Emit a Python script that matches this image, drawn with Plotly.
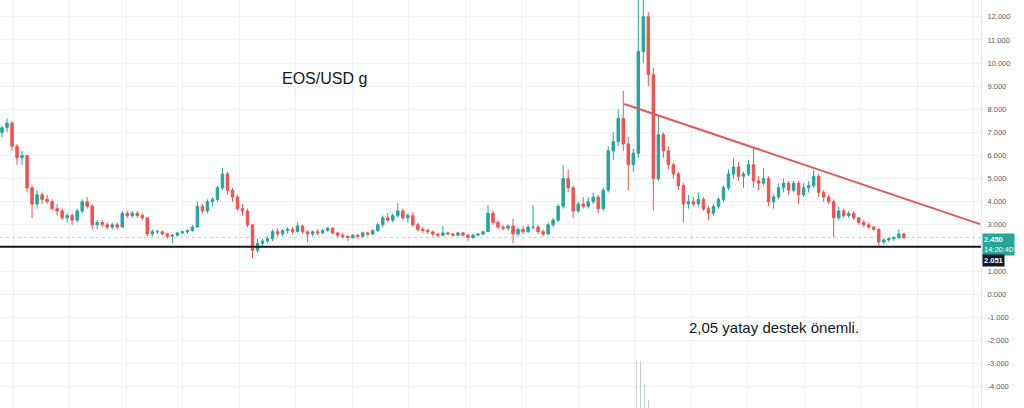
import plotly.graph_objects as go

# ---- data (index = candle number, left to right) ----
opens = [7.0, 7.2, 7.4, 6.4, 5.9, 6.0, 4.6, 3.9, 4.3, 4.1,
         4.0, 3.7, 3.6, 3.3, 3.4, 3.2, 3.6, 4.0, 3.8, 3.0,
         3.1, 3.0, 2.9, 3.0, 2.9, 3.5, 3.4, 3.5, 3.4, 3.3,
         2.6, 2.7, 2.7, 2.6, 2.5, 2.55, 2.65, 2.7, 2.75, 2.9,
         3.8, 3.6, 4.0, 4.1, 4.6, 5.2, 4.5, 4.2, 3.7, 3.6,
         3.0, 1.9, 2.2, 2.3, 2.4, 2.7, 2.6, 2.75, 2.8, 2.7,
         2.95, 2.7, 2.6, 2.7, 2.65, 2.75, 2.85, 2.65, 2.55, 2.5,
         2.45, 2.55, 2.5, 2.65, 2.6, 2.75, 3.0, 3.3, 3.2, 3.4,
         3.6, 3.3, 3.4, 3.0, 2.8, 2.75, 2.7, 2.6, 2.55, 2.65,
         2.6, 2.55, 2.65, 2.55, 2.45, 2.55, 2.6, 2.7, 3.5, 3.1,
         2.9, 2.85, 2.95, 2.6, 2.8, 2.7, 2.9, 2.9, 2.7, 2.6,
         3.0, 3.2, 3.8, 5.0, 4.6, 3.6, 3.9, 3.8, 4.0, 4.2,
         3.7, 4.5, 6.2, 6.6, 7.6, 6.5, 5.6, 6.1, 10.5, 12.0,
         9.5, 5.0, 6.9, 6.2, 5.6, 5.2, 4.7, 3.9, 4.0, 3.9,
         4.1, 3.7, 3.5, 3.8, 4.1, 4.6, 5.2, 5.5, 5.1, 5.2,
         5.6, 4.9, 4.8, 5.0, 4.0, 4.2, 4.6, 4.8, 4.5, 4.8,
         4.3, 4.6, 4.7, 5.1, 4.4, 4.2, 4.0, 3.3, 3.6, 3.4,
         3.5, 3.3, 3.1, 3.0, 2.9, 2.8, 2.25, 2.35, 2.4, 2.45,
         2.6]
highs = [7.3, 7.6, 7.5, 6.5, 6.2, 6.0, 4.7, 4.5, 4.4, 4.3,
         4.1, 3.9, 3.7, 3.5, 3.5, 3.7, 4.1, 4.2, 3.9, 3.2,
         3.2, 3.1, 3.1, 3.1, 3.6, 3.6, 3.6, 3.6, 3.5, 3.3,
         2.8, 2.8, 2.75, 2.65, 2.6, 2.7, 2.75, 2.8, 3.0, 4.0,
         3.9, 4.1, 4.2, 4.7, 5.45, 5.3, 4.6, 4.3, 3.9, 3.7,
         3.0, 2.4, 2.4, 2.5, 2.8, 2.85, 2.8, 2.9, 2.9, 3.1,
         3.0, 2.75, 2.75, 2.8, 2.8, 2.9, 2.9, 2.7, 2.65, 2.55,
         2.6, 2.6, 2.7, 2.7, 2.8, 3.1, 3.4, 3.5, 3.5, 3.95,
         3.7, 3.5, 3.55, 3.1, 2.9, 2.85, 2.75, 2.65, 2.95, 2.7,
         2.65, 2.7, 2.7, 2.6, 2.6, 2.65, 2.75, 3.85, 3.6, 3.2,
         3.0, 3.0, 3.25, 2.9, 2.95, 3.0, 3.85, 3.0, 2.8, 3.1,
         3.3, 3.9, 5.6, 5.4, 4.7, 4.0, 4.2, 4.2, 4.4, 4.3,
         4.6, 6.4, 7.0, 8.0, 8.8, 6.8, 6.3, 13.5, 14.8, 12.2,
         9.8, 7.7, 7.0, 6.4, 5.7, 5.3, 4.8, 4.3, 4.2, 4.4,
         4.2, 3.8, 3.9, 4.2, 4.7, 5.4, 5.9, 5.7, 5.3, 5.8,
         6.3, 5.1, 5.45, 5.1, 4.3, 4.8, 5.0, 4.9, 4.9, 4.9,
         4.8, 4.9, 5.37, 5.2, 4.5, 4.3, 4.1, 3.8, 3.7, 3.6,
         3.6, 3.35, 3.2, 3.1, 2.95, 2.85, 2.4, 2.45, 2.5, 2.8,
         2.65]
lows = [6.8, 7.0, 6.2, 5.6, 5.6, 4.4, 3.3, 3.7, 3.9, 3.9,
        3.6, 3.4, 3.2, 3.1, 3.0, 3.1, 3.5, 3.7, 2.8, 2.8,
        2.9, 2.8, 2.8, 2.8, 2.9, 3.3, 3.3, 3.3, 3.2, 2.5,
        2.5, 2.6, 2.55, 2.4, 2.2, 2.5, 2.6, 2.6, 2.7, 2.9,
        3.5, 3.5, 3.8, 4.0, 4.5, 4.3, 4.0, 3.6, 3.4, 2.9,
        1.55, 1.8, 2.1, 2.2, 2.3, 2.5, 2.5, 2.6, 2.6, 2.7,
        2.6, 2.25, 2.5, 2.55, 2.6, 2.7, 2.6, 2.45, 2.4, 2.3,
        2.4, 2.4, 2.45, 2.5, 2.55, 2.7, 2.9, 3.1, 3.1, 3.3,
        3.2, 3.1, 2.9, 2.7, 2.65, 2.6, 2.5, 2.45, 2.5, 2.55,
        2.5, 2.5, 2.5, 2.3, 2.4, 2.5, 2.55, 2.7, 3.0, 2.8,
        2.75, 2.75, 2.2, 2.5, 2.6, 2.65, 2.8, 2.6, 2.5, 2.55,
        2.9, 3.1, 3.7, 4.4, 3.3, 3.5, 3.7, 3.7, 3.9, 3.5,
        3.6, 4.4, 5.8, 6.4, 6.2, 4.5, 5.3, 5.9, 10.0, 9.0,
        3.6, 4.9, 5.9, 5.4, 5.0, 4.5, 3.1, 3.7, 3.8, 3.8,
        3.6, 3.2, 3.4, 3.7, 4.0, 4.5, 5.0, 4.9, 4.6, 5.1,
        4.6, 4.5, 4.7, 3.8, 3.7, 4.1, 4.4, 4.3, 4.4, 3.9,
        4.2, 4.4, 4.6, 4.2, 4.0, 3.9, 2.45, 3.2, 3.3, 3.3,
        3.2, 3.0, 2.9, 2.8, 2.75, 2.05, 2.15, 2.25, 2.3, 2.4,
        2.4]
closes = [7.2, 7.4, 6.4, 5.9, 6.0, 4.6, 3.9, 4.3, 4.1, 4.0,
          3.7, 3.6, 3.3, 3.4, 3.2, 3.6, 4.0, 3.8, 3.0, 3.1,
          3.0, 2.9, 3.0, 2.9, 3.5, 3.4, 3.5, 3.4, 3.3, 2.6,
          2.7, 2.7, 2.6, 2.5, 2.55, 2.65, 2.7, 2.75, 2.9, 3.8,
          3.6, 4.0, 4.1, 4.6, 5.2, 4.5, 4.2, 3.7, 3.6, 3.0,
          1.9, 2.2, 2.3, 2.4, 2.7, 2.6, 2.75, 2.8, 2.7, 2.95,
          2.7, 2.6, 2.7, 2.65, 2.75, 2.85, 2.65, 2.55, 2.5, 2.45,
          2.55, 2.5, 2.65, 2.6, 2.75, 3.0, 3.3, 3.2, 3.4, 3.6,
          3.3, 3.4, 3.0, 2.8, 2.75, 2.7, 2.6, 2.55, 2.65, 2.6,
          2.55, 2.65, 2.55, 2.45, 2.55, 2.6, 2.7, 3.5, 3.1, 2.9,
          2.85, 2.95, 2.6, 2.8, 2.7, 2.9, 2.9, 2.7, 2.6, 3.0,
          3.2, 3.8, 5.0, 4.6, 3.6, 3.9, 3.8, 4.0, 4.2, 3.7,
          4.5, 6.2, 6.6, 7.6, 6.5, 5.6, 6.1, 10.5, 12.0, 9.5,
          5.0, 6.9, 6.2, 5.6, 5.2, 4.7, 3.9, 4.0, 3.9, 4.1,
          3.7, 3.5, 3.8, 4.1, 4.6, 5.2, 5.5, 5.1, 5.2, 5.6,
          4.9, 4.8, 5.0, 4.0, 4.2, 4.6, 4.8, 4.5, 4.8, 4.3,
          4.6, 4.7, 5.1, 4.4, 4.2, 4.0, 3.3, 3.6, 3.4, 3.5,
          3.3, 3.1, 3.0, 2.9, 2.8, 2.25, 2.35, 2.4, 2.45, 2.6,
          2.45]
candle_idx = list(range(len(closes)))

# volume bars visible at the bottom (only around the spike)
vol_idx = [126.6, 127.4, 128.2, 129.0]
vol = [0.118, 0.115, 0.06, 0.02]

# drawings
trend_x = [124.2, 195.2]
trend_y = [8.23, 3.03]
support_level = 2.051
last_price = 2.450
y_ticks = [12, 11, 10, 9, 8, 7, 6, 5, 4, 3, 1, 0, -1, -2, -3, -4, -5]
y_tick_text = ["12.000", "11.000", "10.000", "9.000", "8.000", "7.000", "6.000",
               "5.000", "4.000", "3.000", "1.000", "0.000", "-1.000",
               "-2.000", "-3.000", "-4.000", "-5.000"]

UP = "#26a69a"
DOWN = "#ef5350"
W, H = 1024, 408
PLOT_R = 981  # right edge of plot area, px
FONT = "Liberation Sans, Arial, sans-serif"

fig = go.Figure()

fig.add_trace(go.Bar(
    x=vol_idx, y=vol, yaxis="y2", width=0.25,
    marker=dict(color="rgba(120,150,150,0.45)", line=dict(width=0)),
    hoverinfo="skip", showlegend=False,
))

fig.add_trace(go.Candlestick(
    x=candle_idx, open=opens, high=highs, low=lows, close=closes,
    increasing=dict(line=dict(color=UP, width=1), fillcolor=UP),
    decreasing=dict(line=dict(color=DOWN, width=1), fillcolor=DOWN),
    whiskerwidth=0, showlegend=False,
))

x_min, x_max = -0.4, 195.4
# current price line (faint)
fig.add_trace(go.Scatter(
    x=[x_min, x_max], y=[last_price, last_price], mode="lines",
    line=dict(color="rgba(38,166,154,0.35)", width=1, dash="dot"),
    hoverinfo="skip", showlegend=False,
))
# support line
fig.add_trace(go.Scatter(
    x=[x_min, x_max], y=[support_level, support_level], mode="lines",
    line=dict(color="#131722", width=2),
    hoverinfo="skip", showlegend=False,
))
# falling trend line
fig.add_trace(go.Scatter(
    x=trend_x, y=trend_y, mode="lines",
    line=dict(color="#de5a5f", width=2),
    hoverinfo="skip", showlegend=False,
))

grid = "#eff1f4"
fig.update_layout(
    width=W, height=H,
    margin=dict(l=0, r=W - PLOT_R, t=0, b=0, autoexpand=False),
    paper_bgcolor="white", plot_bgcolor="white",
    showlegend=False,
    font=dict(family=FONT, color="#131722"),
    xaxis=dict(
        range=[x_min, x_max], rangeslider=dict(visible=False),
        showticklabels=False, ticks="", zeroline=False,
        showgrid=True, gridcolor=grid, gridwidth=1,
        tick0=2.2, dtick=11.28, showline=False, automargin=False,
    ),
    yaxis=dict(
        side="right", range=[-4.93, 12.73],
        tickmode="array", tickvals=y_ticks, ticktext=y_tick_text,
        tickfont=dict(size=7.5, color="#555a63", family=FONT),
        ticks="", ticklabelstandoff=4, automargin=False,
        showgrid=True, gridcolor=grid, gridwidth=1, zeroline=False,
        showline=True, linecolor="#e6e8ec", linewidth=1,
    ),
    yaxis2=dict(overlaying="y", range=[0, 1], visible=False),
    bargap=0,
)

def px_x(p):
    return p / PLOT_R

def px_y(p):
    return 1 - p / H

fig.add_annotation(
    x=px_x(324), y=px_y(78), xref="paper", yref="paper",
    xanchor="center", yanchor="middle",
    text="EOS/USD g", showarrow=False,
    font=dict(size=16, color="#131722", family=FONT),
)
fig.add_annotation(
    x=px_x(774), y=px_y(327), xref="paper", yref="paper",
    xanchor="center", yanchor="middle",
    text="2,05 yatay destek önemli.", showarrow=False,
    font=dict(size=15, color="#131722", family=FONT),
)
# price labels on the scale
fig.add_annotation(
    x=px_x(982), y=px_y(233), xref="paper", yref="paper",
    xanchor="left", yanchor="top", align="left",
    text=f"<b>{last_price:.3f}</b><br>14:20:40", showarrow=False,
    bgcolor=UP, borderpad=1,
    font=dict(size=7.5, color="white", family=FONT),
)
fig.add_annotation(
    x=px_x(982), y=px_y(254), xref="paper", yref="paper",
    xanchor="left", yanchor="top", align="left",
    text=f"<b>{support_level:.3f}</b>", showarrow=False,
    bgcolor="#131722", borderpad=1,
    font=dict(size=7.5, color="white", family=FONT),
)

fig.write_html(
    "out.html",
    config=dict(displayModeBar=False),
    post_script="document.body.style.margin='0';document.body.style.overflow='hidden';",
)
